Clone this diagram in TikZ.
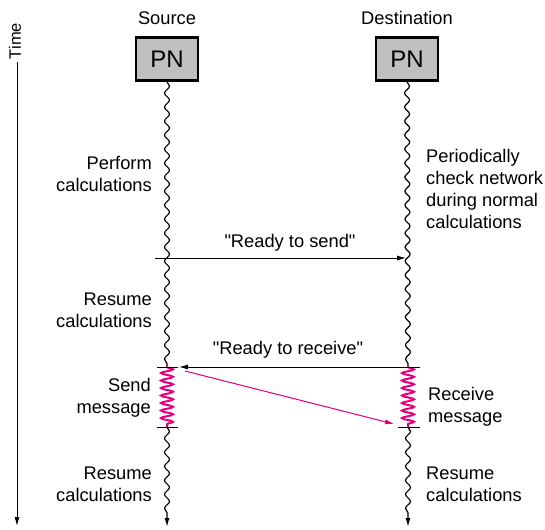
\documentclass[tikz,border=0pt]{standalone}
\usepackage{fontspec}
\setmainfont{Liberation Sans}[Ligatures=TeXOff]
\usetikzlibrary{decorations.pathmorphing,arrows.meta}
\definecolor{mag}{RGB}{230,0,126}
\definecolor{boxgray}{RGB}{192,192,192}
\begin{document}
\begin{tikzpicture}[x=1pt,y=-1pt,
  lbl/.style={font=\fontsize{18.3}{22}\selectfont, inner sep=0pt},
  pnbox/.style={draw, line width=2.5pt, fill=boxgray, minimum width=62pt, minimum height=43pt, inner sep=0pt, font=\fontsize{24}{24}\selectfont},
  wave/.style={decorate, decoration={snake, segment length=14pt, amplitude=2.5pt}, line width=1.2pt},
  wavearrow/.style={decorate, decoration={snake, segment length=14pt, amplitude=2.5pt, post length=10pt}, line width=1.2pt, -{Latex[length=9pt,width=5pt]}},
  coil/.style={draw=mag, decorate, decoration={snake, segment length=7.5pt, amplitude=6pt}, line width=2pt},
  msg/.style={line width=1pt, -{Latex[length=9pt,width=5pt]}},
  tick/.style={line width=1pt},
]
\useasboundingbox (0,0) rectangle (545,529);

% time axis
\node[lbl, font=\fontsize{16.5}{20}\selectfont, rotate=90] (time) at (15,41) {Time};
\coordinate (t1) at (17,62);
\coordinate (t2) at (17,526);
\draw[msg] (t1) -- (t2);

% headers
\node[lbl] (src) at (167,18) {Source};
\node[lbl] (dst) at (407,18) {Destination};
\node[pnbox] (pn1) at (167,59) {PN};
\node[pnbox] (pn2) at (407,59) {PN};

% lane coordinates
\coordinate (s1) at (167,367);
\coordinate (s2) at (167,427);
\coordinate (s3) at (167,527);
\coordinate (d1) at (408,367);
\coordinate (d2) at (408,427);
\coordinate (d3) at (408,527);

% lanes
\draw[wave] (pn1.south) -- (s1);
\draw[wave] (pn2.south) -- (d1);
\draw[coil] (s1) -- (s2);
\draw[coil] (d1) -- (d2);
\draw[wavearrow] (s2) -- (s3);
\draw[wavearrow] (d2) -- (d3);

% ticks
\coordinate (s1l) at (157,367);
\coordinate (s1r) at (178,367);
\coordinate (s2l) at (157,427);
\coordinate (s2r) at (178,427);
\coordinate (d1r) at (420,367);
\coordinate (d2l) at (398,427);
\coordinate (d2r) at (420,427);
\draw[tick] (s1l) -- (s1r);
\draw[tick] (s2l) -- (s2r);
\draw[tick] (d2l) -- (d2r);

% messages
\coordinate (rs0) at (155,258);
\coordinate (rs1) at (406,258);
\draw[msg] (rs0) -- (rs1);
\node[lbl] (rsl) at (290,243) {"Ready to send"};

\coordinate (rr1) at (179,367);
\draw[msg] (d1r) -- (rr1);
\node[lbl] (rrl) at (288,350) {"Ready to receive"};

\coordinate (m0) at (185,371);
\coordinate (m1) at (394,424);
\draw[msg, draw=mag, fill=mag] (m0) -- (m1);

% labels
\node[lbl, anchor=east, align=right] (perf) at (152,174) {Perform\\calculations};
\node[lbl, anchor=west, align=left] (peri) at (426,189) {Periodically\\check network\\during normal\\calculations};
\node[lbl, anchor=east, align=right] (res1) at (152,310) {Resume\\calculations};
\node[lbl, anchor=east, align=right] (send) at (151,398) {Send\\message};
\node[lbl, anchor=west, align=left] (recv) at (428,407) {Receive\\message};
\node[lbl, anchor=east, align=right] (res2) at (152,484) {Resume\\calculations};
\node[lbl, anchor=west, align=left] (res3) at (426,484) {Resume\\calculations};
\end{tikzpicture}
\end{document}
